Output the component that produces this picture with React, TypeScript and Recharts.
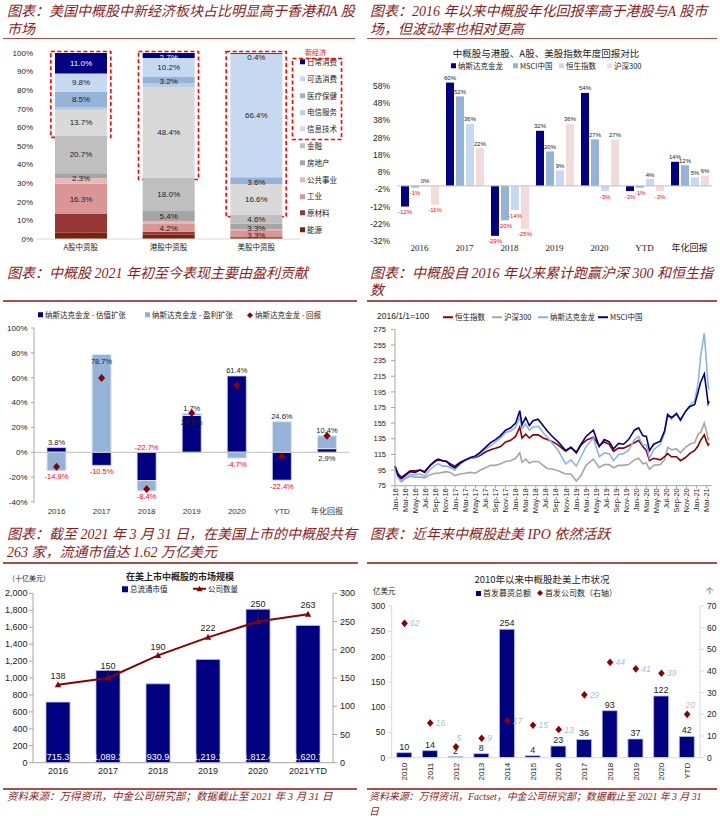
import React from 'react';
import {
  BarChart, Bar, XAxis, YAxis, LabelList, ReferenceArea, ReferenceLine,
  ComposedChart, Line, LineChart,
} from 'recharts';

const NUM = '"Liberation Sans", Arial, "Noto Sans CJK SC", sans-serif';
const SERIFNUM = '"Liberation Serif", "Noto Sans CJK SC", serif';
const CJK = '"Noto Sans CJK SC", "Liberation Sans", sans-serif';
const TITLE_FONT = '"Liberation Serif", "Noto Sans CJK SC", serif';
const TITLE_COLOR = '#8A1C1C';
const RULE_COLOR = '#A5504C';
const NAVY = '#000080';
const DARK_RED = '#8B0000';
const TXT = '#222';
const AXIS_GREY = '#A6A6A6';

/* ---------------- Chart 1: sector composition ---------------- */
const shareCategories = ['A股中资股', '港股中资股', '美股中资股'];
const energyShare = [3.4, 2.3, 0.7];
const materialsShare = [10.0, 1.6, 0.7];
const industrialsShare = [16.3, 4.2, 3.3];
const utilitiesShare = [3.0, 1.6, 0.4];
const realEstateShare = [2.3, 5.4, 3.3];
const financialsShare = [20.7, 18.0, 4.6];
const infoTechShare = [13.7, 48.4, 16.6];
const telecomShare = [1.3, 2.4, 0.0];
const healthShare = [8.5, 3.2, 3.6];
const discretionaryShare = [9.8, 10.2, 66.4];
const staplesShare = [11.0, 2.7, 0.4];

/* ---------------- Chart 2: annual returns ---------------- */
const returnYears = ['2016', '2017', '2018', '2019', '2020', 'YTD', '年化回报'];
const nasdaqDragonReturn = [-12, 60, -29, 32, 54, -3, 14];
const msciChinaReturn = [-1, 52, -20, 20, 27, -1, 12];
const hangSengReturn = [0.4, 36, -14, 9, -3, 4, 5];
const csi300Return = [-11, 22, -25, 36, 27, -3, 6];
const returnTicks = [-32, -22, -12, -2, 8, 18, 28, 38, 48, 58];

/* ---------------- Chart 3: return decomposition ---------------- */
const valuationExpansion = [3.8, -10.5, -22.7, 29.6, 61.4, -22.4, 2.9];
const earningsExpansion = [-14.9, 78.7, -8.4, 1.7, -4.7, 24.6, 10.4];
const dragonTotalReturn = [-11.7, 59.8, -29.5, 31.6, 53.9, -3.4, 13.4];
const contribTicks = [-40, -20, 0, 20, 40, 60, 80, 100];

/* ---------------- Chart 4: cumulative index (2016/1/1=100) ---------------- */
const lineDates = [
  '2016-01-01', '2016-01-20', '2016-02-10', '2016-03-01', '2016-04-01', '2016-05-01', '2016-06-01', '2016-06-28',
  '2016-08-01', '2016-09-01', '2016-09-20', '2016-10-15', '2016-11-10', '2016-12-01', '2016-12-28',
  '2017-02-01', '2017-03-01', '2017-04-01', '2017-05-01', '2017-06-01', '2017-07-01', '2017-08-01', '2017-09-01',
  '2017-10-01', '2017-11-01', '2017-12-01',
  '2018-01-01', '2018-01-26', '2018-02-09', '2018-03-01', '2018-03-23', '2018-04-15', '2018-05-15', '2018-06-15',
  '2018-07-10', '2018-08-15', '2018-09-15', '2018-10-30', '2018-12-01',
  '2019-01-03', '2019-02-01', '2019-03-01', '2019-04-15', '2019-05-20', '2019-06-20', '2019-07-20', '2019-08-15',
  '2019-09-15', '2019-10-15', '2019-11-15', '2019-12-20',
  '2020-01-15', '2020-02-10', '2020-03-01', '2020-03-20', '2020-04-15', '2020-05-25', '2020-06-20', '2020-07-08',
  '2020-08-01', '2020-09-01', '2020-09-25', '2020-10-25', '2020-11-20', '2020-12-20',
  '2021-01-10', '2021-01-25', '2021-02-17', '2021-03-01', '2021-03-10', '2021-03-16',
];
const msciChinaIdx = [
  100, 88, 84, 88, 93, 92, 95, 92, 101, 107, 109, 107, 106, 101, 98,
  104, 108, 111, 113, 118, 124, 130, 134, 139, 146, 149,
  155, 171, 153, 162, 152, 158, 160, 152, 145, 137, 131, 120, 124,
  117, 128, 138, 146, 125, 134, 131, 122, 129, 128, 134, 146,
  149, 139, 138, 120, 128, 132, 145, 166, 162, 167, 159, 170, 176, 179,
  195, 207, 218, 195, 180, 183,
];
const nasdaqDragonIdx = [
  100, 86, 80, 85, 89, 89, 90, 87, 96, 101, 103, 100, 100, 98, 95,
  103, 107, 110, 112, 116, 122, 126, 131, 136, 143, 145,
  150, 163, 148, 154, 146, 150, 151, 143, 137, 128, 120, 103, 108,
  100, 112, 125, 136, 112, 117, 116, 107, 115, 116, 120, 134,
  138, 127, 127, 110, 121, 128, 142, 166, 160, 168, 158, 170, 178, 184,
  206, 240, 270, 228, 203, 198,
];
const hangSengIdx = [
  100, 90, 86, 89, 94, 94, 95, 93, 101, 106, 108, 107, 106, 103, 100,
  105, 108, 110, 111, 114, 118, 121, 123, 125, 131, 133,
  138, 150, 136, 141, 136, 140, 140, 136, 134, 131, 127, 119, 124,
  118, 127, 133, 137, 126, 131, 128, 119, 123, 123, 126, 130,
  133, 125, 120, 107, 110, 108, 112, 116, 112, 112, 107, 111, 116, 120,
  126, 133, 140, 131, 127, 129,
];
const csi300Idx = [
  100, 85, 80, 84, 87, 86, 86, 85, 89, 91, 91, 92, 93, 92, 88,
  90, 91, 92, 91, 95, 98, 101, 101, 103, 106, 107,
  110, 117, 105, 109, 104, 106, 106, 101, 97, 96, 94, 90, 90,
  81, 88, 101, 109, 98, 102, 102, 98, 101, 101, 102, 108,
  110, 103, 104, 96, 101, 102, 108, 124, 121, 122, 117, 124, 128, 130,
  141, 143, 155, 143, 134, 136,
];
const monthNames = ['Jan', 'Feb', 'Mar', 'Apr', 'May', 'Jun', 'Jul', 'Aug', 'Sep', 'Oct', 'Nov', 'Dec'];
const indexTicks = [75, 95, 115, 135, 155, 175, 195, 215, 235, 255, 275];

/* ---------------- Chart 5: market size ---------------- */
const marketYears = ['2016', '2017', '2018', '2019', '2020', '2021YTD'];
const marketCap = [715.3, 1089.3, 930.9, 1219.1, 1812.4, 1620.7];
const companyCount = [138, 150, 190, 222, 250, 263];
const capTicks = [0, 200, 400, 600, 800, 1000, 1200, 1400, 1600, 1800, 2000];
const countTicks = [0, 50, 100, 150, 200, 250, 300];

/* ---------------- Chart 6: IPOs ---------------- */
const ipoYears = ['2010', '2011', '2012', '2013', '2014', '2015', '2016', '2017', '2018', '2019', '2020', 'YTD'];
const ipoProceeds = [10, 14, 2, 8, 254, 4, 23, 36, 93, 37, 122, 42];
const ipoCount = [62, 16, 5, 9, 17, 15, 13, 29, 44, 41, 39, 20];
const proceedsTicks = [0, 50, 100, 150, 200, 250, 300];
const ipoCountTicks = [0, 10, 20, 30, 40, 50, 60, 70];

/* ================= derived tables ================= */
const sectorSeries = [
  { key: 'energy', name: '能源', values: energyShare, color: '#7B2208', labeled: false },
  { key: 'materials', name: '原材料', values: materialsShare, color: '#953735', labeled: false },
  { key: 'industrials', name: '工业', values: industrialsShare, color: '#D99694', labeled: true },
  { key: 'utilities', name: '公共事业', values: utilitiesShare, color: '#E6B9B8', labeled: false },
  { key: 'realEstate', name: '房地产', values: realEstateShare, color: '#A6A6A6', labeled: true },
  { key: 'financials', name: '金融', values: financialsShare, color: '#BFBFBF', labeled: true },
  { key: 'infoTech', name: '信息技术', values: infoTechShare, color: '#D9D9D9', labeled: true },
  { key: 'telecom', name: '电信服务', values: telecomShare, color: '#B8CCE4', labeled: false },
  { key: 'health', name: '医疗保健', values: healthShare, color: '#95B3D7', labeled: true },
  { key: 'discretionary', name: '可选消费', values: discretionaryShare, color: '#C6D9F1', labeled: true },
  { key: 'staples', name: '日常消费', values: staplesShare, color: NAVY, labeled: true },
];
const newEconomyKeys = ['staples', 'discretionary', 'health', 'telecom', 'infoTech'];
const shareData = shareCategories.map((cat, i) => {
  const row: Record<string, any> = { cat };
  sectorSeries.forEach((s) => { row[s.key] = s.values[i]; });
  return row;
});
const newEconomyTotal = (i: number) =>
  sectorSeries.filter((s) => newEconomyKeys.includes(s.key)).reduce((a, s) => a + s.values[i], 0);

const returnData = returnYears.map((year, i) => ({
  year, ndx: nasdaqDragonReturn[i], msci: msciChinaReturn[i], hsi: hangSengReturn[i], csi: csi300Return[i],
}));
const contribData = returnYears.map((year, i) => ({
  year, val: valuationExpansion[i], earn: earningsExpansion[i], ret: dragonTotalReturn[i],
}));
const toMonths = (d: string) => {
  const [y, m, dd] = d.split('-').map(Number);
  return (y - 2016) * 12 + (m - 1) + (dd - 1) / 30.5;
};
const indexData = lineDates.map((d, i) => ({
  t: toMonths(d), msci: msciChinaIdx[i], ndx: nasdaqDragonIdx[i], hsi: hangSengIdx[i], csi: csi300Idx[i],
}));
const monthTicks = Array.from({ length: 32 }, (_, k) => k * 2);
const monthLabel = (m: number) => `${monthNames[m % 12]}-${16 + Math.floor(m / 12)}`;
const marketData = marketYears.map((year, i) => ({ year, cap: marketCap[i], count: companyCount[i] }));
const ipoData = ipoYears.map((year, i) => ({ year, proceeds: ipoProceeds[i], count: ipoCount[i] }));

/* ================= helpers ================= */
const boxOf = (p: any) => {
  const vb = p.viewBox && p.viewBox.width != null ? p.viewBox : p;
  const x = Number(vb.x), y0 = Number(vb.y), w = Number(vb.width), h = Number(vb.height);
  return { x, w, top: Math.min(y0, y0 + h), bottom: Math.max(y0, y0 + h), h: Math.abs(h) };
};

const Title = ({ x, y, lines }: { x: number; y: number; lines: string[] }) => (
  <div style={{
    position: 'absolute', left: x, top: y, fontFamily: TITLE_FONT, fontStyle: 'italic', fontSize: 14,
    lineHeight: '17.5px', color: TITLE_COLOR, whiteSpace: 'nowrap',
  }}>
    {lines.map((l, i) => <div key={i}>{l}</div>)}
  </div>
);
const Rule = ({ x, y, w }: { x: number; y: number; w: number }) => (
  <div style={{ position: 'absolute', left: x, top: y, width: w, height: 1.5, background: RULE_COLOR }} />
);
const Txt = ({ x, y, children, size = 8, font = CJK, color = TXT, bold = false, center = false, w = 0, italic = false }: any) => (
  <div style={{
    position: 'absolute', left: center ? x - w / 2 : x, top: y, width: center ? w : undefined,
    transform: 'translateY(-50%)', textAlign: center ? 'center' : 'left', fontSize: size, fontFamily: font,
    color, fontWeight: bold ? 700 : 400, fontStyle: italic ? 'italic' : 'normal', whiteSpace: 'nowrap', lineHeight: 1.1,
  }}>{children}</div>
);
const Leg = ({ x, y, marker, text, size = 8 }: any) => (
  <div style={{
    position: 'absolute', left: x, top: y, transform: 'translateY(-50%)', display: 'flex', alignItems: 'center',
    whiteSpace: 'nowrap', fontFamily: CJK, fontSize: size, color: TXT, lineHeight: 1,
  }}>
    {marker}
    <span style={{ marginLeft: 2 }}>{text}</span>
  </div>
);
const Sq = ({ c, s = 5 }: any) => <span style={{ display: 'inline-block', width: s, height: s, background: c }} />;
const Ln = ({ c, w = 10, h = 2.5 }: any) => <span style={{ display: 'inline-block', width: w, height: h, background: c }} />;
const Dm = ({ c, s = 6 }: any) => (
  <svg width={s} height={s} style={{ display: 'block' }}>
    <path d={`M${s / 2},0 L${s},${s / 2} L${s / 2},${s} L0,${s / 2} Z`} fill={c} />
  </svg>
);
const LnTri = ({ c }: any) => (
  <svg width={13} height={7} style={{ display: 'block' }}>
    <line x1={0} y1={3.5} x2={13} y2={3.5} stroke={c} strokeWidth={2} />
    <polygon points="6.5,0.5 9.5,6 3.5,6" fill={c} />
  </svg>
);

/* ---- chart 1 parts ---- */
const shareLabel = (whiteOnBar: boolean) => (p: any) => {
  const b = boxOf(p);
  const v = Number(p.value);
  if (!isFinite(v) || v <= 0 || !isFinite(b.x)) return null;
  const cy = Math.max(b.top + b.h / 2, b.top + 4.5);
  return (
    <text x={b.x + b.w / 2} y={cy} dy={2.8} textAnchor="middle" fontSize={8} fontFamily={NUM}
      fill={whiteOnBar && b.h > 3 ? '#fff' : TXT}>{v.toFixed(1)}%</text>
  );
};
const DashedBox = (p: any) => {
  const cx = p.x + p.width / 2;
  const w = 60;
  return (
    <rect x={cx - w / 2} y={p.y - 1.5} width={w} height={p.height + 3.5} fill="none"
      stroke="#FF0000" strokeWidth={1.6} strokeDasharray="4 2.5" />
  );
};

/* ---- chart 2 parts ---- */
const returnLabel = (p: any) => {
  const b = boxOf(p);
  const v = Number(p.value);
  if (!isFinite(v) || !isFinite(b.x)) return null;
  const neg = v < 0;
  return (
    <text x={b.x + b.w / 2} y={neg ? b.bottom + 7.5 : b.top - 2.5} textAnchor="middle" fontSize={6}
      fontFamily={NUM} fill={neg ? '#FF0000' : TXT}>{Math.round(v)}%</text>
  );
};

/* ---- chart 3 parts ---- */
const valuationLabelPos = ['above', 'below', 'above', 'inside', 'above', 'below', 'below'];
const earningsLabelPos = ['below', 'inside', 'below', 'above', 'below', 'above', 'above'];
const contribLabel = (modes: string[], values: number[]) => (p: any) => {
  const b = boxOf(p);
  const v = Number(p.value);
  if (!isFinite(v) || !isFinite(b.x)) return null;
  const i = p.index != null ? p.index : values.indexOf(v);
  const mode = modes[i];
  const y = mode === 'above' ? b.top - 2.5 : mode === 'below' ? b.bottom + 8.5 : b.top + 10;
  return (
    <text x={b.x + b.w / 2} y={y} textAnchor="middle" fontSize={7.5} fontFamily={NUM}
      fill={v < 0 ? '#FF0000' : TXT}>{v.toFixed(1)}%</text>
  );
};
const DiamondDot = (p: any) => {
  const { cx, cy, index } = p;
  if (cx == null || cy == null) return null;
  return <path key={`d${index}`} d={`M${cx},${cy - 4} L${cx + 3.5},${cy} L${cx},${cy + 4} L${cx - 3.5},${cy} Z`} fill={DARK_RED} />;
};

/* ---- chart 4 parts ---- */
const MonthTick = (p: any) => {
  const { x, y, payload } = p;
  const ty = y - 0.5;
  return (
    <text x={x} y={ty} transform={`rotate(-90 ${x} ${ty})`} textAnchor="end" dy="0.35em" fontSize={7.5}
      fontFamily={NUM} fill={TXT}>{monthLabel(payload.value)}</text>
  );
};

/* ---- chart 5 parts ---- */
const PLOT5_H = 169.4;
const capLabel = (p: any) => {
  const b = boxOf(p);
  const v = Number(p.value);
  if (!isFinite(v) || !isFinite(b.x)) return null;
  return (
    <text x={b.x + b.w / 2} y={b.bottom - 3} textAnchor="middle" fontSize={9} fontFamily={NUM} fill="#fff">
      {v.toLocaleString('en-US', { minimumFractionDigits: 1, maximumFractionDigits: 1 })}
    </text>
  );
};
const CountDot = (p: any) => {
  const { cx, cy, payload, index } = p;
  if (cx == null || cy == null) return null;
  const bottom = cy + (payload.count / 300) * PLOT5_H;
  const barTop = bottom - (payload.cap / 2000) * PLOT5_H;
  let labelCy = cy - 9;
  const lifted = cy > barTop - 10;
  if (lifted) labelCy = Math.min(labelCy, barTop - 5);
  return (
    <g key={`c${index}`}>
      {lifted && <line x1={cx} y1={labelCy + 4.5} x2={cx} y2={cy - 3} stroke="#333" strokeWidth={0.7} />}
      <polygon points={`${cx},${cy - 3.5} ${cx + 3.2},${cy + 2.5} ${cx - 3.2},${cy + 2.5}`} fill={DARK_RED} />
      <text x={cx} y={labelCy} dy="0.35em" textAnchor="middle" fontSize={9} fontFamily={NUM} fill={TXT}>{payload.count}</text>
    </g>
  );
};

/* ---- chart 6 parts ---- */
const ipoLabelAbove = ['2012', 'YTD'];
const YearTick = (p: any) => {
  const { x, y, payload } = p;
  return (
    <text x={x} y={y} transform={`rotate(-90 ${x} ${y})`} textAnchor="end" dy="0.35em" fontSize={8}
      fontFamily={NUM} fill={TXT}>{payload.value}</text>
  );
};
const proceedsLabel = (p: any) => {
  const b = boxOf(p);
  const v = Number(p.value);
  if (!isFinite(v) || !isFinite(b.x)) return null;
  return (
    <text x={b.x + b.w / 2} y={b.top - 3} textAnchor="middle" fontSize={9} fontFamily={NUM} fill={TXT}>{v}</text>
  );
};
const IpoDot = (p: any) => {
  const { cx, cy, payload, index } = p;
  if (cx == null || cy == null) return null;
  const above = ipoLabelAbove.includes(payload.year);
  return (
    <g key={`i${index}`}>
      <path d={`M${cx},${cy - 3.8} L${cx + 3.3},${cy} L${cx},${cy + 3.8} L${cx - 3.3},${cy} Z`} fill={DARK_RED} />
      <text x={above ? cx + 3 : cx + 5.5} y={above ? cy - 9 : cy} dy="0.35em" textAnchor={above ? 'middle' : 'start'}
        fontSize={8.5} fontStyle="italic" fontFamily={NUM} fill="#A9C0E0">{payload.count}</text>
    </g>
  );
};

const tickStyle = (size: number, font = NUM) => ({ fontSize: size, fill: TXT, fontFamily: font });
const sourceStyle: any = {
  position: 'absolute', top: 789, fontFamily: TITLE_FONT, fontStyle: 'italic', fontSize: 10.5,
  lineHeight: '15px', color: TITLE_COLOR, whiteSpace: 'nowrap',
};

export default function App() {
  return (
    <div style={{ position: 'absolute', left: 0, top: 0, width: 720, height: 816, background: '#fff', overflow: 'hidden' }}>
      {/* ---------- titles & rules ---------- */}
      <Title x={7} y={3} lines={['图表：美国中概股中新经济板块占比明显高于香港和A 股', '市场']} />
      <Title x={370} y={3} lines={['图表：2016 年以来中概股年化回报率高于港股与A 股市', '场，但波动率也相对更高']} />
      <Rule x={3} y={37.5} w={352} />
      <Rule x={367} y={37.5} w={350} />
      <Title x={7} y={264.5} lines={['图表：中概股 2021 年初至今表现主要由盈利贡献']} />
      <Title x={370} y={264.5} lines={['图表：中概股自 2016 年以来累计跑赢沪深 300 和恒生指', '数']} />
      <Rule x={3} y={300} w={354} />
      <Rule x={367} y={300} w={350} />
      <Title x={7} y={526} lines={['图表：截至 2021 年 3 月 31 日，在美国上市的中概股共有', '263 家，流通市值达 1.62 万亿美元']} />
      <Title x={370} y={526} lines={['图表：近年来中概股赴美 IPO 依然活跃']} />
      <Rule x={3} y={562} w={355} />
      <Rule x={367} y={562} w={350} />
      <Rule x={3} y={788} w={354} />
      <Rule x={367} y={788} w={350} />
      <div style={{ ...sourceStyle, left: 7 }}>
        资料来源：万得资讯，中金公司研究部；数据截止至 2021 年 3 月 31 日
      </div>
      <div style={{ ...sourceStyle, left: 369, fontSize: 10, letterSpacing: -0.1 }}>
        <div>资料来源：万得资讯，Factset，中金公司研究部；数据截止至 2021 年 3 月 31</div>
        <div>日</div>
      </div>

      {/* ---------- Chart 1 ---------- */}
      <div style={{ position: 'absolute', left: 0, top: 40 }}>
        <BarChart width={355} height={220} data={shareData} margin={{ top: 13, right: 55, bottom: 1, left: 0 }} barSize={52}>
          <XAxis dataKey="cat" height={20} interval={0} axisLine={{ stroke: '#D9D9D9' }} tickLine={false}
            tickSize={0} tickMargin={6} tick={tickStyle(7.5, CJK)} />
          <YAxis domain={[0, 100]} ticks={[0, 10, 20, 30, 40, 50, 60, 70, 80, 90, 100]} tickFormatter={(v: number) => `${v}%`}
            width={37} axisLine={false} tickLine={false} tickSize={0} tickMargin={4} tick={tickStyle(8)} />
          {sectorSeries.map((s) => (
            <Bar key={s.key} dataKey={s.key} stackId="share" fill={s.color} isAnimationActive={false}>
              {s.labeled && <LabelList dataKey={s.key} content={shareLabel(s.key === 'staples')} />}
            </Bar>
          ))}
          {shareCategories.map((c, i) => (
            <ReferenceArea key={c} x1={c} x2={c} y1={100 - newEconomyTotal(i)} y2={100} shape={DashedBox} ifOverflow="visible" />
          ))}
        </BarChart>
      </div>
      {[...sectorSeries].reverse().map((s, i) => (
        <Leg key={s.key} x={300} y={62 + i * 16.8} marker={<Sq c={s.color} />} text={s.name} size={7.5} />
      ))}
      <Txt x={305} y={53} size={7} color="#FF0000">新经济</Txt>
      <svg style={{ position: 'absolute', left: 290, top: 56 }} width={56} height={86}>
        <rect x={2.5} y={2.5} width={49} height={81} fill="none" stroke="#FF0000" strokeWidth={1.6} strokeDasharray="4 2.5" />
      </svg>

      {/* ---------- Chart 2 ---------- */}
      <Txt x={546} y={53} w={220} center size={9.5}>中概股与港股、A股、美股指数年度回报对比</Txt>
      <Leg x={451} y={66} marker={<Sq c={NAVY} />} text="纳斯达克金龙" size={7.5} />
      <Leg x={513} y={66} marker={<Sq c="#95B3D7" />} text="MSCI中国" size={7.5} />
      <Leg x={559} y={66} marker={<Sq c="#C6D9F1" />} text="恒生指数" size={7.5} />
      <Leg x={607} y={66} marker={<Sq c="#F2DCDB" />} text="沪深300" size={7.5} />
      <div style={{ position: 'absolute', left: 360, top: 40 }}>
        <BarChart width={360} height={222} data={returnData} margin={{ top: 35.7, right: 8, bottom: 1, left: 0 }} barSize={8} barGap={2}>
          <XAxis dataKey="year" height={20} interval={0} axisLine={false} tickLine={false} tickSize={0} tickMargin={3.5}
            tick={tickStyle(9, SERIFNUM)} />
          <YAxis domain={[-32, 64]} ticks={returnTicks} tickFormatter={(v: number) => `${v}%`} width={37}
            axisLine={false} tickLine={false} tickSize={0} tickMargin={7} tick={tickStyle(8.5)} />
          <ReferenceLine y={0} stroke="#BFBFBF" />
          <Bar dataKey="ndx" fill={NAVY} isAnimationActive={false}><LabelList dataKey="ndx" content={returnLabel} /></Bar>
          <Bar dataKey="msci" fill="#95B3D7" isAnimationActive={false}><LabelList dataKey="msci" content={returnLabel} /></Bar>
          <Bar dataKey="hsi" fill="#C6D9F1" isAnimationActive={false}><LabelList dataKey="hsi" content={returnLabel} /></Bar>
          <Bar dataKey="csi" fill="#F2DCDB" isAnimationActive={false}><LabelList dataKey="csi" content={returnLabel} /></Bar>
        </BarChart>
      </div>

      {/* ---------- Chart 3 ---------- */}
      <Leg x={38} y={315} marker={<Sq c={NAVY} />} text="纳斯达克金龙 - 估值扩张" size={7.5} />
      <Leg x={145} y={315} marker={<Sq c="#95B3D7" />} text="纳斯达克金龙 - 盈利扩张" size={7.5} />
      <Leg x={247} y={315} marker={<Dm c={DARK_RED} />} text="纳斯达克金龙 - 回报" size={7.5} />
      <div style={{ position: 'absolute', left: 0, top: 305 }}>
        <ComposedChart width={360} height={218} data={contribData} margin={{ top: 23, right: 10.5, bottom: 1, left: 0 }}
          stackOffset="sign" barSize={19}>
          <XAxis dataKey="year" height={20} interval={0} axisLine={false} tickLine={false} tickSize={0} tickMargin={6}
            tick={{ ...tickStyle(8), fill: '#333' }} />
          <YAxis domain={[-40, 100]} ticks={contribTicks} tickFormatter={(v: number) => `${v}%`} width={34}
            axisLine={{ stroke: AXIS_GREY }} tickLine={{ stroke: AXIS_GREY }} tickSize={3} tickMargin={3.5} tick={tickStyle(8)} />
          <ReferenceLine y={0} stroke="#BFBFBF" />
          <Bar dataKey="val" stackId="c" fill={NAVY} stroke="#C6D9F1" strokeWidth={0.8} isAnimationActive={false}>
            <LabelList dataKey="val" content={contribLabel(valuationLabelPos, valuationExpansion)} />
          </Bar>
          <Bar dataKey="earn" stackId="c" fill="#95B3D7" stroke="#DCE6F2" strokeWidth={1} isAnimationActive={false}>
            <LabelList dataKey="earn" content={contribLabel(earningsLabelPos, earningsExpansion)} />
          </Bar>
          <Line dataKey="ret" stroke="none" dot={DiamondDot} activeDot={false} isAnimationActive={false} />
        </ComposedChart>
      </div>

      {/* ---------- Chart 4 ---------- */}
      <Txt x={377} y={317} size={8.5} font={NUM}>2016/1/1=100</Txt>
      <Leg x={443} y={317} marker={<Ln c={DARK_RED} />} text="恒生指数" size={7.5} />
      <Leg x={492} y={317} marker={<Ln c="#A6A6A6" />} text="沪深300" size={7.5} />
      <Leg x={538} y={317} marker={<Ln c="#8DB4E2" />} text="纳斯达克金龙" size={7.5} />
      <Leg x={598} y={317} marker={<Ln c={NAVY} />} text="MSCI中国" size={7.5} />
      <div style={{ position: 'absolute', left: 360, top: 305 }}>
        <LineChart width={360} height={215} data={indexData} margin={{ top: 24.3, right: 8.3, bottom: 1.3, left: 0 }}>
          <XAxis dataKey="t" type="number" domain={[0, 63]} ticks={monthTicks} height={33} interval={0}
            axisLine={{ stroke: AXIS_GREY }} tickLine={{ stroke: AXIS_GREY }} tickSize={3} tickMargin={0} tick={MonthTick} />
          <YAxis domain={[75, 275]} ticks={indexTicks} width={35} axisLine={{ stroke: AXIS_GREY }}
            tickLine={{ stroke: AXIS_GREY }} tickSize={4} tickMargin={5} tick={tickStyle(7.5)} />
          <Line dataKey="csi" stroke="#A6A6A6" strokeWidth={1.6} dot={false} activeDot={false} isAnimationActive={false} />
          <Line dataKey="hsi" stroke={DARK_RED} strokeWidth={1.6} dot={false} activeDot={false} isAnimationActive={false} />
          <Line dataKey="ndx" stroke="#8DB4E2" strokeWidth={1.6} dot={false} activeDot={false} isAnimationActive={false} />
          <Line dataKey="msci" stroke={NAVY} strokeWidth={1.6} dot={false} activeDot={false} isAnimationActive={false} />
        </LineChart>
      </div>

      {/* ---------- Chart 5 ---------- */}
      <Txt x={180} y={577} w={160} center size={9} bold>在美上市中概股的市场规模</Txt>
      <Txt x={8} y={579} size={7}>（十亿美元）</Txt>
      <Leg x={122} y={589} marker={<Sq c={NAVY} s={6} />} text="总流通市值" size={7.5} />
      <Leg x={193} y={589} marker={<LnTri c={DARK_RED} />} text="公司数量" size={7.5} />
      <div style={{ position: 'absolute', left: 0, top: 580 }}>
        <ComposedChart width={360} height={205} data={marketData} margin={{ top: 13.3, right: 0, bottom: 2.3, left: 0 }} barSize={24}>
          <XAxis dataKey="year" height={20} interval={0} axisLine={{ stroke: AXIS_GREY }} tickLine={false}
            tickSize={0} tickMargin={5} tick={tickStyle(9)} />
          <YAxis yAxisId="left" domain={[0, 2000]} ticks={capTicks} tickFormatter={(v: number) => v.toLocaleString('en-US')}
            width={33} axisLine={{ stroke: AXIS_GREY }} tickLine={{ stroke: AXIS_GREY }} tickSize={4} tickMargin={1.5} tick={tickStyle(9)} />
          <YAxis yAxisId="right" orientation="right" domain={[0, 300]} ticks={countTicks} width={27}
            axisLine={{ stroke: AXIS_GREY }} tickLine={{ stroke: AXIS_GREY }} tickSize={4} tickMargin={3} tick={tickStyle(9)} />
          <Bar yAxisId="left" dataKey="cap" fill={NAVY} stroke="#B4C3DE" strokeWidth={0.8} isAnimationActive={false}>
            <LabelList dataKey="cap" content={capLabel} />
          </Bar>
          <Line yAxisId="right" dataKey="count" stroke={DARK_RED} strokeWidth={2} dot={CountDot} activeDot={false} isAnimationActive={false} />
        </ComposedChart>
      </div>

      {/* ---------- Chart 6 ---------- */}
      <Txt x={542} y={579} w={200} center size={9.5}>2010年以来中概股赴美上市状况</Txt>
      <Txt x={373} y={591} size={7.5}>亿美元</Txt>
      <Txt x={706} y={591} size={7.5}>个</Txt>
      <Leg x={476} y={593} marker={<Sq c={NAVY} />} text="首发募资总额" size={8} />
      <Leg x={537} y={593} marker={<Dm c={DARK_RED} />} text="首发公司数（右轴）" size={8} />
      <div style={{ position: 'absolute', left: 360, top: 595 }}>
        <ComposedChart width={360} height={190} data={ipoData} margin={{ top: 11, right: 0, bottom: 1.3, left: 0 }} barSize={15}>
          <XAxis dataKey="year" height={26} interval={0} axisLine={{ stroke: '#D9D9D9' }} tickLine={false}
            tickSize={0} tickMargin={5} tick={YearTick} />
          <YAxis yAxisId="left" domain={[0, 300]} ticks={proceedsTicks} width={31.7} axisLine={{ stroke: '#D9D9D9' }}
            tickLine={{ stroke: '#D9D9D9' }} tickSize={4} tickMargin={2.5} tick={tickStyle(8.5)} />
          <YAxis yAxisId="right" orientation="right" domain={[0, 70]} ticks={ipoCountTicks} width={20}
            axisLine={{ stroke: '#D9D9D9' }} tickLine={{ stroke: '#D9D9D9' }} tickSize={4} tickMargin={3} tick={tickStyle(8.5)} />
          <Bar yAxisId="left" dataKey="proceeds" fill={NAVY} stroke="#B4C3DE" strokeWidth={0.8} isAnimationActive={false}>
            <LabelList dataKey="proceeds" content={proceedsLabel} />
          </Bar>
          <Line yAxisId="right" dataKey="count" stroke="none" dot={IpoDot} activeDot={false} isAnimationActive={false} />
        </ComposedChart>
      </div>
    </div>
  );
}
